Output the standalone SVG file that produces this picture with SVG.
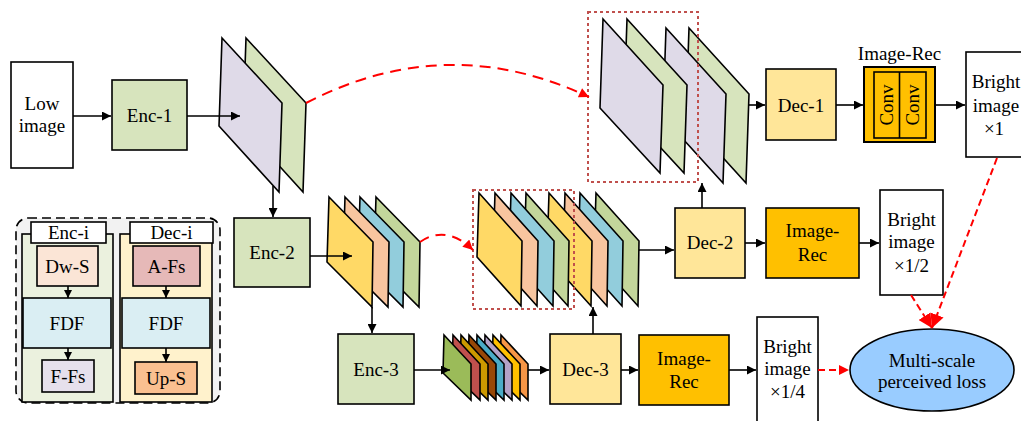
<svg xmlns="http://www.w3.org/2000/svg" width="1021" height="421" viewBox="0 0 1021 421">
<defs>
<style>
.t{font-family:"Liberation Serif","Times New Roman",serif;font-size:19px;text-anchor:middle;fill:#000}
.b{stroke:#000;stroke-width:1.6}
.m{stroke:#000;stroke-width:1.6;stroke-linejoin:miter}
.c{stroke:#000;stroke-width:1.6;fill:none}
.r{stroke:#ff0000;stroke-width:2;fill:none}
.dot{fill:none;stroke:#c0504d;stroke-width:2;stroke-dasharray:3 3}
.pu{fill:#dfdae8}.gr{fill:#d7e4bd}.ye{fill:#ffd966}.or{fill:#f8c59f}.bl{fill:#92cddc}.g2{fill:#c3d69b}
</style>
<marker id="ah" viewBox="0 0 10 10" refX="10" refY="5" markerWidth="11" markerHeight="9" markerUnits="userSpaceOnUse" orient="auto"><path d="M0,0 L10,5 L0,10 z" fill="#000"/></marker>
<marker id="as" viewBox="0 0 10 10" refX="10" refY="5" markerWidth="9" markerHeight="8" markerUnits="userSpaceOnUse" orient="auto"><path d="M0,0 L10,5 L0,10 z" fill="#000"/></marker>
<marker id="rh" viewBox="0 0 10 10" refX="10" refY="5" markerWidth="12" markerHeight="10" markerUnits="userSpaceOnUse" orient="auto"><path d="M0,0 L10,5 L0,10 z" fill="#ff0000"/></marker>
<marker id="rb" viewBox="0 0 10 10" refX="10" refY="5" markerWidth="14" markerHeight="14" markerUnits="userSpaceOnUse" orient="auto"><path d="M0,0 L10,5 L0,10 z" fill="#ff0000"/></marker>
</defs>
<rect width="1021" height="421" fill="#fff"/>

<!-- Legend -->
<g id="legend">
<rect x="16" y="218" width="204" height="185" rx="12" fill="#f2f2f2" stroke="#000" stroke-width="1.6" stroke-dasharray="9 5"/>
<rect x="22" y="234" width="91" height="168" fill="#ebf1de" class="b"/>
<rect x="120" y="234" width="92" height="168" fill="#fff2cc" class="b"/>
<rect x="31" y="222" width="75" height="21" fill="#fff" class="b"/>
<text class="t" x="68.5" y="239">Enc-i</text>
<rect x="130" y="222" width="83" height="21" fill="#fff" class="b"/>
<text class="t" x="171.5" y="239">Dec-i</text>
<rect x="37" y="246" width="61" height="40" fill="#fbe5d6" class="b"/>
<text class="t" x="67.5" y="273">Dw-S</text>
<rect x="23" y="298" width="88" height="50" fill="#daeef3" class="b"/>
<text class="t" x="67" y="330">FDF</text>
<rect x="42" y="360" width="52" height="32" fill="#e6e0ec" class="b"/>
<text class="t" x="68" y="383">F-Fs</text>
<rect x="133" y="246" width="67" height="40" fill="#e6b9b8" class="b"/>
<text class="t" x="166.5" y="273">A-Fs</text>
<rect x="122" y="298" width="88" height="50" fill="#daeef3" class="b"/>
<text class="t" x="166" y="330">FDF</text>
<rect x="135" y="362" width="62" height="32" fill="#fac090" class="b"/>
<text class="t" x="166" y="385">Up-S</text>
<path class="c" d="M68,286 V298" marker-end="url(#as)"/>
<path class="c" d="M68,348 V360" marker-end="url(#as)"/>
<path class="c" d="M166,286 V298" marker-end="url(#as)"/>
<path class="c" d="M166,348 V362" marker-end="url(#as)"/>
</g>

<!-- Nodes -->
<g id="low">
<rect x="11" y="62" width="62" height="106" fill="#fff" class="b"/>
<text class="t" x="42" y="110">Low</text>
<text class="t" x="42" y="132">image</text>
</g>
<g id="enc1">
<rect x="112" y="80" width="75" height="70" fill="#d7e4bd" class="b"/>
<text class="t" x="149.5" y="122">Enc-1</text>
</g>
<g id="fm1">
<polygon class="m gr" points="246,38 306,103 303,192 243,126"/>
<polygon class="m pu" points="222,38 282,103 279,192 219,126"/>
</g>
<g id="enc2">
<rect x="234" y="218" width="76" height="69" fill="#d7e4bd" class="b"/>
<text class="t" x="272" y="259">Enc-2</text>
</g>
<g id="fm2">
<polygon class="m g2" points="376,197 420,242 419,307 374,262"/>
<polygon class="m bl" points="360,197 404,242 403,307 358,262"/>
<polygon class="m or" points="345,197 389,242 388,307 343,262"/>
<polygon class="m ye" points="329,197 373,242 372,307 327,262"/>
</g>
<g id="enc3">
<rect x="338" y="334" width="76" height="70" fill="#d7e4bd" class="b"/>
<text class="t" x="376" y="376">Enc-3</text>
</g>
<g id="fm3">
<polygon class="m" fill="#f79646" points="501,335 528,364 528,400 500,373"/>
<polygon class="m" fill="#ffc000" points="493,335 520,364 520,400 492,373"/>
<polygon class="m" fill="#b3a2c7" points="485,335 512,364 512,400 484,373"/>
<polygon class="m" fill="#4bacc6" points="477,335 504,364 504,400 476,373"/>
<polygon class="m" fill="#984807" points="469,335 496,364 496,400 468,373"/>
<polygon class="m" fill="#cc9900" points="461,335 488,364 488,400 460,373"/>
<polygon class="m" fill="#c0504d" points="453,335 480,364 480,400 452,373"/>
<polygon class="m" fill="#9bbb59" points="444,335 471,364 471,400 443,373"/>
</g>
<g id="dec3">
<rect x="550" y="334" width="71" height="70" fill="#ffe699" class="b"/>
<text class="t" x="585.5" y="376">Dec-3</text>
</g>
<g id="rec3">
<rect x="639" y="335" width="90" height="70" fill="#ffc000" class="b"/>
<text class="t" x="684" y="365">Image-</text>
<text class="t" x="684" y="388">Rec</text>
</g>
<g id="bright4">
<rect x="757" y="317" width="61" height="110" fill="#fff" class="b"/>
<text class="t" x="787.5" y="353">Bright</text>
<text class="t" x="787.5" y="375">image</text>
<text class="t" x="787.5" y="398">×1/4</text>
</g>
<g id="fm4">
<polygon class="m g2" points="596,193 639,241 638,306 594,257"/>
<polygon class="m bl" points="580,193 623,241 622,306 578,257"/>
<polygon class="m or" points="565,193 608,241 607,306 563,257"/>
<polygon class="m ye" points="549,193 592,241 591,306 547,257"/>
<polygon class="m g2" points="526,193 569,241 568,306 524,257"/>
<polygon class="m bl" points="511,193 554,241 553,306 509,257"/>
<polygon class="m or" points="495,193 538,241 537,306 493,257"/>
<polygon class="m ye" points="479,193 522,241 521,306 477,257"/>
<rect class="dot" x="473" y="190" width="101" height="119"/>
</g>
<g id="dec2">
<rect x="675" y="208" width="70" height="70" fill="#ffe699" class="b"/>
<text class="t" x="710" y="249">Dec-2</text>
</g>
<g id="rec2">
<rect x="766" y="208" width="93" height="70" fill="#ffc000" class="b"/>
<text class="t" x="812.5" y="237">Image-</text>
<text class="t" x="812.5" y="261">Rec</text>
</g>
<g id="bright2">
<rect x="880" y="190" width="63" height="105" fill="#fff" class="b"/>
<text class="t" x="911.5" y="226">Bright</text>
<text class="t" x="911.5" y="248">image</text>
<text class="t" x="911.5" y="272">×1/2</text>
</g>
<g id="fm5">
<polygon class="m gr" points="689,28 749,94 746,183 686,117"/>
<polygon class="m pu" points="666,28 726,94 723,183 663,117"/>
<polygon class="m gr" points="627,19 687,85 684,173 624,108"/>
<polygon class="m pu" points="603,19 663,85 660,173 600,108"/>
<rect class="dot" x="588" y="12" width="110" height="170"/>
</g>
<g id="dec1">
<rect x="766" y="69" width="70" height="71" fill="#ffe699" class="b"/>
<text class="t" x="801" y="112">Dec-1</text>
</g>
<g id="rec1">
<text class="t" x="899.5" y="60">Image-Rec</text>
<rect x="864" y="67" width="71" height="75" fill="#ffc000" stroke="#000" stroke-width="2"/>
<rect x="874" y="72" width="52" height="66" fill="#ffc000" class="b"/>
<line x1="899.5" y1="72" x2="899.5" y2="138" class="b"/>
<text class="t" transform="translate(893,105) rotate(-90)">Conv</text>
<text class="t" transform="translate(919,105) rotate(-90)">Conv</text>
</g>
<g id="bright1">
<rect x="966" y="52" width="62" height="105" fill="#fff" class="b"/>
<text class="t" x="996" y="88">Bright</text>
<text class="t" x="996" y="112">image</text>
<text class="t" x="994" y="135">×1</text>
</g>
<g id="loss">
<ellipse cx="932" cy="370" rx="82" ry="41" fill="#99ccff" class="b"/>
<text class="t" x="932" y="367">Multi-scale</text>
<text class="t" x="932" y="388">perceived loss</text>
</g>

<!-- Connectors -->
<g id="connectors">
<path class="c" d="M73,116 H111" marker-end="url(#ah)"/>
<path class="c" d="M187,116 H240" marker-end="url(#ah)"/>
<path class="c" d="M273,186 V217" marker-end="url(#ah)"/>
<path class="c" d="M310,256 H352" marker-end="url(#ah)"/>
<path class="c" d="M372,307 V333" marker-end="url(#ah)"/>
<path class="c" d="M414,370 H450" marker-end="url(#ah)"/>
<path class="c" d="M528,370 H549" marker-end="url(#ah)"/>
<path class="c" d="M621,370 H638" marker-end="url(#ah)"/>
<path class="c" d="M729,370 H756" marker-end="url(#ah)"/>
<path class="c" d="M593,334 V307" marker-end="url(#ah)"/>
<path class="c" d="M639,250 H674" marker-end="url(#ah)"/>
<path class="c" d="M745,243 H765" marker-end="url(#ah)"/>
<path class="c" d="M859,243 H879" marker-end="url(#ah)"/>
<path class="c" d="M702,208 V183" marker-end="url(#ah)"/>
<path class="c" d="M748,105 H765" marker-end="url(#ah)"/>
<path class="c" d="M836,105 H863" marker-end="url(#ah)"/>
<path class="c" d="M935,105 H965" marker-end="url(#ah)"/>
<path class="r" d="M306,103 Q447,30 589,97" stroke-dasharray="11 7" marker-end="url(#rh)"/>
<path class="r" d="M420,242 Q446,224 473,250" stroke-dasharray="10 7" marker-end="url(#rh)"/>
<path class="r" d="M911,295 L932,328" stroke-dasharray="7 4" marker-end="url(#rb)"/>
<path class="r" d="M997,158 L932,328" stroke-dasharray="7 4" marker-end="url(#rb)"/>
<path class="r" d="M818,370 H849" stroke-dasharray="7 4" marker-end="url(#rh)"/>
</g>
</svg>
